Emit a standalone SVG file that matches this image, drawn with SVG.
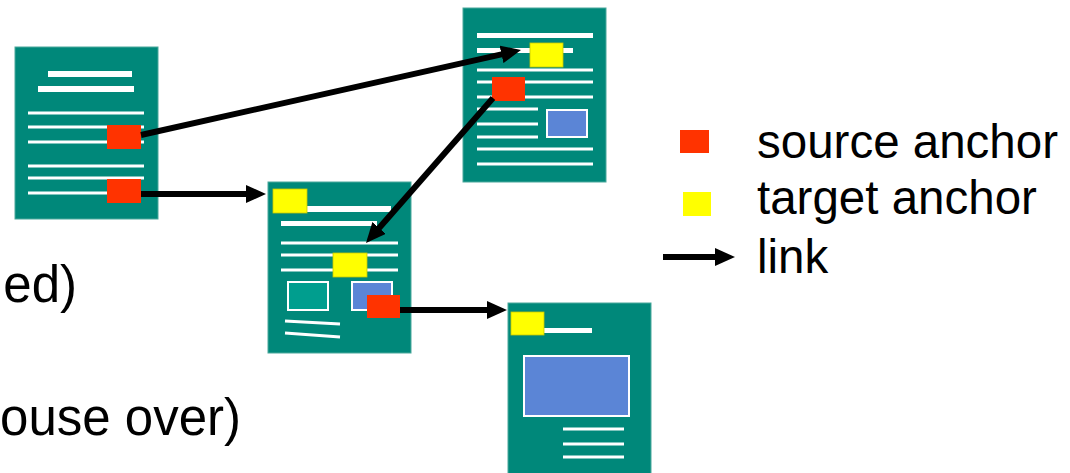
<svg xmlns="http://www.w3.org/2000/svg" width="1070" height="473" viewBox="0 0 1070 473">
<style>
.page{fill:#00887A;stroke:#4AA89C;stroke-width:1}
.wl{stroke:#FFFFFF;stroke-width:3}
.wt{fill:#FFFFFF}
.src{fill:#FF3300}
.tgt{fill:#FFFF00;stroke:#C8C800;stroke-width:0.8}
.img{fill:#5B85D6;stroke:#FFFFFF;stroke-width:2}
.img2{fill:#009E8E;stroke:#FFFFFF;stroke-width:2}
.lnk{stroke:#000000;stroke-width:6;fill:none;marker-end:url(#ah)}
.big{font-family:"Liberation Sans",Arial,sans-serif;font-size:51px;fill:#000000}
.leg{font-family:"Liberation Sans",Arial,sans-serif;font-size:47.5px;fill:#000000}
</style>
<defs>
<marker id="ah" viewBox="0 0 20 18" refX="8" refY="9" markerWidth="20" markerHeight="18" markerUnits="userSpaceOnUse" orient="auto">
<path d="M0,0 L20,9 L0,18 z" fill="#000000"/>
</marker>
</defs>
<rect width="1070" height="473" fill="#FFFFFF"/>

<text class="big" x="77" y="302" text-anchor="end">ed)</text>
<text class="big" x="241" y="435" text-anchor="end">ouse over)</text>

<g id="doc1">
<rect class="page" x="15" y="47" width="143" height="172"/>
<rect class="wt" x="48" y="71" width="84" height="6"/>
<rect class="wt" x="38" y="86" width="96" height="6"/>
<line class="wl" x1="28" y1="113" x2="144" y2="113"/>
<line class="wl" x1="28" y1="127" x2="144" y2="127"/>
<line class="wl" x1="28" y1="142" x2="144" y2="142"/>
<line class="wl" x1="28" y1="166" x2="144" y2="166"/>
<line class="wl" x1="28" y1="178" x2="144" y2="178"/>
<line class="wl" x1="28" y1="193" x2="144" y2="193"/>
<rect class="src" x="107" y="125" width="34" height="24"/>
<rect class="src" x="107" y="179" width="34" height="24"/>
</g>

<g id="doc2">
<rect class="page" x="268" y="182" width="143" height="171"/>
<rect class="wt" x="307" y="206" width="84" height="6"/>
<rect class="wt" x="281" y="221" width="96" height="5"/>
<line class="wl" x1="281" y1="243" x2="398" y2="243"/>
<line class="wl" x1="281" y1="255" x2="398" y2="255"/>
<line class="wl" x1="281" y1="270" x2="398" y2="270"/>
<rect class="img2" x="288" y="282" width="40" height="28"/>
<rect class="img" x="352" y="282" width="40" height="28"/>
<line class="wl" x1="285" y1="321" x2="340" y2="324"/>
<line class="wl" x1="285" y1="333" x2="340" y2="337"/>
<rect class="tgt" x="273" y="189" width="34" height="24"/>
<rect class="tgt" x="333" y="253" width="34" height="24"/>
<rect class="src" x="367" y="295" width="33" height="23"/>
</g>

<g id="doc3">
<rect class="page" x="463" y="8" width="143" height="174"/>
<rect class="wt" x="477" y="33" width="116" height="5"/>
<rect class="wt" x="477" y="48" width="96" height="5"/>
<line class="wl" x1="477" y1="70" x2="593" y2="70"/>
<line class="wl" x1="477" y1="82" x2="593" y2="82"/>
<line class="wl" x1="477" y1="97" x2="593" y2="97"/>
<line class="wl" x1="477" y1="109" x2="538" y2="109"/>
<line class="wl" x1="477" y1="124" x2="538" y2="124"/>
<line class="wl" x1="477" y1="137" x2="538" y2="137"/>
<line class="wl" x1="477" y1="149" x2="593" y2="149"/>
<line class="wl" x1="477" y1="164" x2="593" y2="164"/>
<rect class="img" x="547" y="110" width="40" height="27"/>
<rect class="tgt" x="530" y="43" width="33" height="24"/>
<rect class="src" x="492" y="77" width="33" height="24"/>
</g>

<g id="doc4">
<rect class="page" x="508" y="303" width="143" height="175"/>
<rect class="wt" x="544" y="328" width="48" height="5"/>
<rect class="img" x="524" y="356" width="105" height="60"/>
<line class="wl" x1="563" y1="429" x2="624" y2="429"/>
<line class="wl" x1="563" y1="444" x2="624" y2="444"/>
<line class="wl" x1="563" y1="457" x2="624" y2="457"/>
<rect class="tgt" x="511" y="312" width="33" height="23"/>
</g>

<g id="connectors">
<line class="lnk" x1="141" y1="135" x2="509.3" y2="52.6"/>
<line class="lnk" x1="141" y1="194" x2="254" y2="194"/>
<line class="lnk" x1="493" y1="98" x2="373.9" y2="234"/>
<line class="lnk" x1="400" y1="310" x2="495" y2="310"/>
</g>

<g id="legend">
<rect class="src" x="680" y="130" width="29" height="23"/>
<rect class="tgt" x="683" y="192" width="28" height="24" style="stroke:none"/>
<line class="lnk" x1="663" y1="257" x2="723" y2="257"/>
<text class="leg" x="757" y="158">source anchor</text>
<text class="leg" x="757" y="214">target anchor</text>
<text class="leg" x="757" y="273">link</text>
</g>
</svg>
